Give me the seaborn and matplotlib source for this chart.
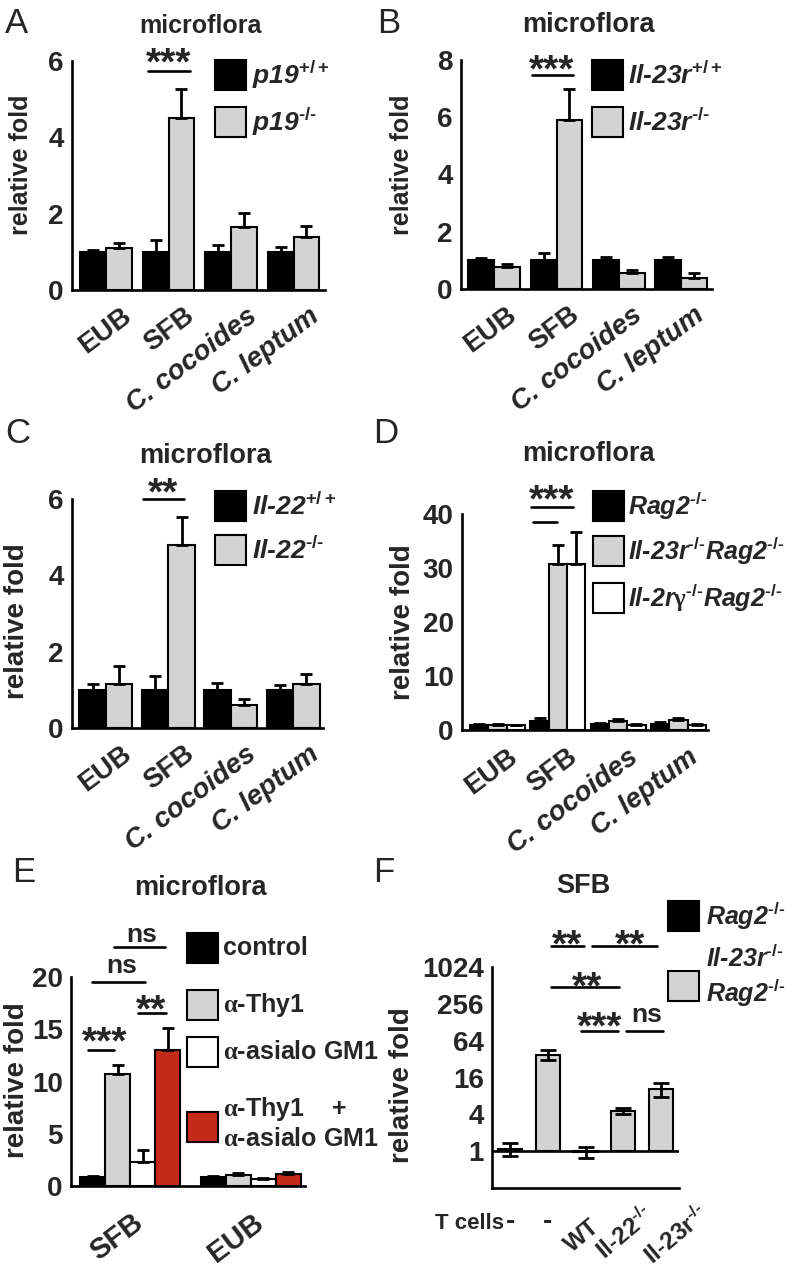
import numpy as np
import pandas as pd
import matplotlib
matplotlib.use('Agg')
import matplotlib.pyplot as plt
import matplotlib.transforms as mtransforms
from matplotlib.patches import Rectangle
from matplotlib.lines import Line2D
import seaborn as sns

# superscripts use a real hyphen (U+2010), as in the original artwork
KO = '$^{\u2010/\u2010}$'
WT = '$^{+/+}$'

# ---------------- data ----------------
microbes = ['EUB', 'SFB', 'C. cocoides', 'C. leptum']
microbes_italic = [False, False, True, True]

# A: p19
a_groups = ['p19' + WT, 'p19' + KO]
a_wt = [1.0, 1.0, 1.0, 1.0]
a_wt_err = [0.05, 0.30, 0.17, 0.12]
a_ko = [1.10, 4.50, 1.64, 1.38]
a_ko_err = [0.13, 0.76, 0.38, 0.29]

# B: Il-23r
b_groups = ['Il-23r' + WT, 'Il-23r' + KO]
b_wt = [1.0, 1.0, 1.0, 1.0]
b_wt_err = [0.08, 0.26, 0.13, 0.13]
b_ko = [0.76, 5.90, 0.56, 0.40]
b_ko_err = [0.13, 1.10, 0.12, 0.15]

# C: Il-22
c_groups = ['Il-22' + WT, 'Il-22' + KO]
c_wt = [1.0, 1.0, 1.0, 1.0]
c_wt_err = [0.15, 0.35, 0.17, 0.12]
c_ko = [1.15, 4.80, 0.60, 1.15]
c_ko_err = [0.47, 0.72, 0.15, 0.27]

# D: Rag2 backgrounds
d_groups = ['Rag2' + KO, 'Il-23r' + KO + 'Rag2' + KO,
            'Il-2r$\\mathsf{\\gamma}^{\u2010/\u2010}$Rag2' + KO]
d_rag = [1.0, 1.6, 1.1, 1.2]
d_rag_err = [0.10, 0.70, 0.20, 0.20]
d_il23r = [0.9, 30.8, 1.6, 1.8]
d_il23r_err = [0.15, 3.5, 0.4, 0.4]
d_il2rg = [0.9, 30.8, 0.9, 0.9]
d_il2rg_err = [0.10, 5.8, 0.3, 0.3]

# E: depletion
e_cats = ['SFB', 'EUB']
e_groups = ['control', r'$\mathsf{\alpha}$-Thy1', r'$\mathsf{\alpha}$-asialo GM1',
            '$\\mathsf{\\alpha}$-Thy1    +\n$\\mathsf{\\alpha}$-asialo GM1']
e_control = [0.9, 0.9]
e_control_err = [0.1, 0.1]
e_thy1 = [10.7, 1.1]
e_thy1_err = [0.9, 0.15]
e_asialo = [2.3, 0.7]
e_asialo_err = [1.1, 0.1]
e_both = [13.0, 1.15]
e_both_err = [2.1, 0.15]

# F: SFB after T cell transfer
f_groups = ['Rag2' + KO, 'Il-23r' + KO + '\nRag2' + KO]
f_tcells = ['-', '-', 'WT', 'Il-22' + KO, 'Il-23r' + KO]
f_recipient = [0, 1, 1, 1, 1]
f_vals = [1.1, 38.0, 0.97, 4.6, 10.5]
f_err = [0.27, 7.5, 0.2, 0.55, 2.7]
f_ticks = [1, 4, 16, 64, 256, 1024]

BLACK, GRAY, WHITE, RED = '#000000', '#d3d3d3', '#ffffff', '#c42a1a'

# ---------------- style ----------------
W, H = 793, 1274
sns.set_style('white')
plt.rcParams['font.family'] = ['Liberation Sans', 'DejaVu Sans']
plt.rcParams['font.weight'] = 'bold'
plt.rcParams['mathtext.fontset'] = 'custom'
plt.rcParams['mathtext.rm'] = 'Liberation Sans:bold'
plt.rcParams['mathtext.it'] = 'Liberation Sans:italic:bold'
plt.rcParams['mathtext.bf'] = 'Liberation Sans:bold'
plt.rcParams['mathtext.sf'] = 'Liberation Serif'

fig = plt.figure(figsize=(W / 100, H / 100), dpi=100)
LW = 1.9


def add_axes(x0, y0, x1, y1):
    return fig.add_axes([x0 / W, 1 - y1 / H, (x1 - x0) / W, (y1 - y0) / H])


def style_axes(ax, yticks, size=20):
    sns.despine(ax=ax)
    for s in ['left', 'bottom']:
        ax.spines[s].set_linewidth(LW)
        ax.spines[s].set_color('black')
    ax.set_yticks(yticks)
    ax.set_yticklabels([str(t) for t in yticks])
    ax.tick_params(axis='y', direction='out', length=4.5, width=LW, color='black',
                   labelsize=size, pad=1.5)
    ax.tick_params(axis='x', length=0, labelbottom=False)
    ax.set_xlabel('')
    ax.set_ylabel('')
    ax.set_facecolor('none')


def grouped_bars(ax, cats, names, values, errors, colors, width):
    df = pd.DataFrame({'cat': np.tile(cats, len(names)),
                       'grp': np.repeat(names, len(cats)),
                       'val': np.concatenate(values)})
    sns.barplot(data=df, x='cat', y='val', hue='grp', order=cats, hue_order=names,
                palette=colors, width=width, gap=0, saturation=1, edgecolor='black',
                linewidth=1.5, errorbar=None, legend=False, ax=ax)
    cx = [p.get_x() + p.get_width() / 2 for p in ax.patches]
    top = [p.get_y() + p.get_height() for p in ax.patches]
    err = np.concatenate(errors)
    ax.errorbar(cx, top, yerr=[np.zeros_like(err), err], fmt='none', ecolor='black',
                elinewidth=2, capsize=4.5, capthick=2)


def cat_labels(ax, labels, italic, rot, dx, dy, size):
    trans = (mtransforms.blended_transform_factory(ax.transData, ax.transAxes)
             + mtransforms.ScaledTranslation(dx / 100, dy / 100, fig.dpi_scale_trans))
    for i, (lab, it) in enumerate(zip(labels, italic)):
        ax.text(i, 0, lab, transform=trans, rotation=rot, rotation_mode='anchor',
                ha='right', va='top', fontsize=size, fontweight='bold',
                fontstyle='italic' if it else 'normal', clip_on=False)


def legend(colors, labels, x0, ys, tx, ty=None, italic=True, size=19):
    ty = ys if ty is None else ty
    for c, lab, y, yt in zip(colors, labels, ys, ty):
        fig.add_artist(Rectangle((x0 / W, 1 - (y + 15) / H), 31 / W, 30 / H,
                                 transform=fig.transFigure, facecolor=c,
                                 edgecolor='black', lw=1.5))
        fig.text(tx / W, 1 - yt / H, lab, ha='left', va='center', fontsize=size,
                 fontweight='bold', fontstyle='italic' if italic else 'normal')


def sig(x0, x1, y, text, tx, ty):
    fig.add_artist(Line2D([x0 / W, x1 / W], [1 - y / H] * 2, transform=fig.transFigure,
                          color='black', lw=LW))
    size = 19 if text == 'ns' else 28
    fig.text(tx / W, 1 - ty / H, text, ha='center', va='baseline', fontsize=size,
             fontweight='bold')


def ftext(x, y, s, size, **kw):
    fig.text(x / W, 1 - y / H, s, fontsize=size, **kw)


# ---------------- A ----------------
ax = add_axes(72, 61, 325, 290)
grouped_bars(ax, microbes, a_groups, [a_wt, a_ko], [a_wt_err, a_ko_err], [BLACK, GRAY], 0.83)
ax.set_xlim(-0.544, 3.504)
ax.set_ylim(0, 6)
style_axes(ax, [0, 2, 4, 6])
cat_labels(ax, microbes, microbes_italic, 37, 15, -13, 20)
legend([BLACK, GRAY], a_groups, 215, [75, 122], 252)
sig(148, 190, 71, '***', 169, 74)
ftext(5, 33, 'A', 25, fontweight='normal')
ftext(200, 33, 'microflora', 18, ha='center', va='baseline', fontweight='bold')
ftext(21, 165, 'relative fold', 18, rotation=90, ha='center', va='center', fontweight='bold')

# ---------------- B ----------------
ax = add_axes(461, 60, 712, 289)
grouped_bars(ax, microbes, b_groups, [b_wt, b_ko], [b_wt_err, b_ko_err], [BLACK, GRAY], 0.83)
ax.set_xlim(-0.53, 3.49)
ax.set_ylim(0, 8)
style_axes(ax, [0, 2, 4, 6, 8])
cat_labels(ax, microbes, microbes_italic, 37, 12, -13, 20)
legend([BLACK, GRAY], b_groups, 592, [75, 122], 628)
sig(532, 573, 75, '***', 552, 81)
ftext(377, 33, 'B', 25, fontweight='normal')
ftext(588, 32, 'microflora', 19.5, ha='center', va='baseline', fontweight='bold')
ftext(402, 165, 'relative fold', 18, rotation=90, ha='center', va='center', fontweight='bold')

# ---------------- C ----------------
ax = add_axes(72, 499, 323, 728)
grouped_bars(ax, microbes, c_groups, [c_wt, c_ko], [c_wt_err, c_ko_err], [BLACK, GRAY], 0.85)
ax.set_xlim(-0.545, 3.48)
ax.set_ylim(0, 6)
style_axes(ax, [0, 2, 4, 6])
cat_labels(ax, microbes, microbes_italic, 37, 15, -13, 20)
legend([BLACK, GRAY], c_groups, 215, [506, 550], 252)
sig(143, 184, 499, '**', 163, 504)
ftext(5, 443, 'C', 25, fontweight='normal')
ftext(205, 463, 'microflora', 19.5, ha='center', va='baseline', fontweight='bold')
ftext(17, 621, 'relative fold', 20, rotation=90, ha='center', va='center', fontweight='bold')

# ---------------- D ----------------
ax = add_axes(462, 514, 708, 730)
grouped_bars(ax, microbes, d_groups, [d_rag, d_il23r, d_il2rg],
             [d_rag_err, d_il23r_err, d_il2rg_err], [BLACK, GRAY, WHITE], 0.91)
ax.set_xlim(-0.59, 3.49)
ax.set_ylim(0, 40)
style_axes(ax, [0, 10, 20, 30, 40])
cat_labels(ax, microbes, microbes_italic, 37, 9, -14, 20)
legend([BLACK, GRAY, WHITE], d_groups, 593, [506, 551, 598], 628, size=18)
sig(531, 573, 507, '***', 552, 511)
fig.add_artist(Line2D([533 / W, 557 / W], [1 - 522 / H] * 2, transform=fig.transFigure,
                      color='black', lw=LW))
ftext(373, 443, 'D', 25, fontweight='normal')
ftext(588, 461, 'microflora', 19.5, ha='center', va='baseline', fontweight='bold')
ftext(403, 622, 'relative fold', 20, rotation=90, ha='center', va='center', fontweight='bold')

# ---------------- E ----------------
ax = add_axes(71, 977, 305, 1186)
grouped_bars(ax, e_cats, e_groups, [e_control, e_thy1, e_asialo, e_both],
             [e_control_err, e_thy1_err, e_asialo_err, e_both_err],
             [BLACK, GRAY, WHITE, RED], 0.83)
ax.set_xlim(-0.49, 1.45)
ax.set_ylim(0, 20)
style_axes(ax, [0, 5, 10, 15, 20])
cat_labels(ax, e_cats, [False, False], 37, 1, -22, 21)
legend([BLACK, GRAY, WHITE, RED], e_groups, 187, [948, 1005, 1052, 1127], 223,
       ty=[948, 1005, 1052, 1123], italic=False, size=18)
sig(88, 114, 1050, '***', 105, 1053)
sig(138, 166, 1013, '**', 151, 1021)
sig(92, 145, 982, 'ns', 122, 973)
sig(114, 165, 947, 'ns', 142, 942)
ftext(12, 882, 'E', 25, fontweight='normal')
ftext(200, 895, 'microflora', 19.5, ha='center', va='baseline', fontweight='bold')
ftext(17, 1080, 'relative fold', 20, rotation=90, ha='center', va='center', fontweight='bold')

# ---------------- F ----------------
ax = add_axes(492, 967, 679, 1188)
f_df = pd.DataFrame({'pos': np.arange(len(f_vals)),
                     'grp': [f_groups[i] for i in f_recipient],
                     'height': np.array(f_vals) - 1})
sns.barplot(data=f_df, x='pos', y='height', hue='grp', hue_order=f_groups,
            palette=[BLACK, GRAY], dodge=False, width=0.64, saturation=1, bottom=1,
            edgecolor='black', linewidth=1.5, errorbar=None, legend=False, ax=ax)
ax.set_yscale('log', base=2)
ax.yaxis.set_minor_locator(matplotlib.ticker.NullLocator())
ax.set_xlim(-0.48, 4.48)
ax.set_ylim(0.25, 1024)
style_axes(ax, f_ticks)
ax.axhline(1, color='black', lw=LW)
ax.errorbar(np.arange(len(f_vals)), f_vals, yerr=f_err, fmt='none', ecolor='black',
            elinewidth=2, capsize=5.5, capthick=2, zorder=4)
trans = mtransforms.blended_transform_factory(ax.transData, ax.transAxes)
label_dx = [0, 0, 4, 19, 36]
label_dy = [0, 0, -27, -14, -13]
for i, lab in enumerate(f_tcells):
    if lab == '-':
        ax.text(i, -0.155, lab, transform=trans, ha='center', va='center',
                fontsize=20, fontweight='bold', clip_on=False)
    else:
        off = trans + mtransforms.ScaledTranslation(label_dx[i] / 100, label_dy[i] / 100,
                                                    fig.dpi_scale_trans)
        ax.text(i, 0, lab, transform=off, rotation=40, rotation_mode='anchor',
                ha='right', va='top', fontsize=17.5, fontweight='bold', clip_on=False)
ftext(435, 1229, 'T cells', 16, ha='left', va='baseline', fontweight='bold')
legend([BLACK, GRAY], f_groups, 668, [916, 986], 706, ty=[916, 977], size=18)
sig(551, 584, 946, '**', 567, 956)
sig(592, 657, 946, '**', 630, 956)
sig(551, 619, 987, '**', 587, 998)
sig(581, 618, 1031, '***', 600, 1038)
sig(626, 663, 1031, 'ns', 647, 1022)
ftext(373, 882, 'F', 25, fontweight='normal')
ftext(583, 893, 'SFB', 19.5, ha='center', va='baseline', fontweight='bold')
ftext(402, 1085, 'relative fold', 20, rotation=90, ha='center', va='center', fontweight='bold')

fig.savefig('out.png', dpi=100)
